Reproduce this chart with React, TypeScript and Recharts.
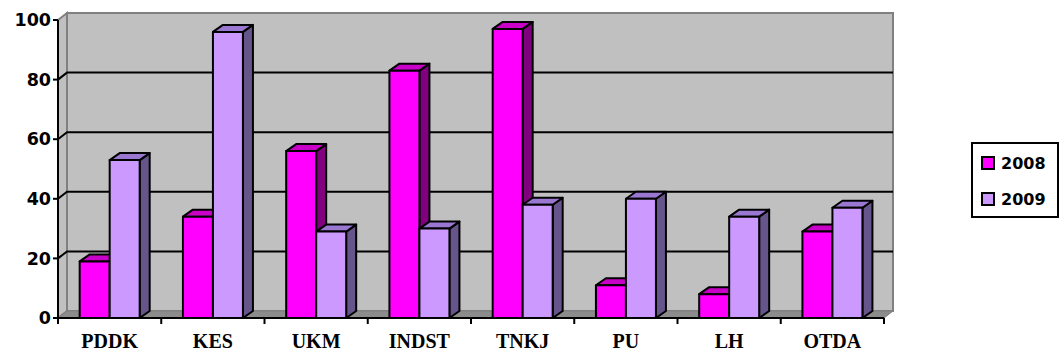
import React from 'react';
import { BarChart, Bar, XAxis, YAxis, CartesianGrid, ReferenceArea, Legend } from 'recharts';

const categories = ['PDDK', 'KES', 'UKM', 'INDST', 'TNKJ', 'PU', 'LH', 'OTDA'];
const values2008 = [19, 34, 56, 83, 97, 11, 8, 29];
const values2009 = [53, 96, 29, 30, 38, 40, 34, 37];
const seriesNames = ['2008', '2009'];
const yTicks = [0, 20, 40, 60, 80, 100];
const gridValues = [20, 40, 60, 80];

const data = categories.map((name, i) => ({ name, y2008: values2008[i], y2009: values2009[i] }));

// depth of the fake 3D box and of the columns
const WALL_DX = 9;
const WALL_DY = -7;
const BAR_DX = 10;
const BAR_DY = -7;

const palette = {
  y2008: { front: '#FF00FF', top: '#C800C8', side: '#800080' },
  y2009: { front: '#CC99FF', top: '#9A78D2', side: '#66558A' },
};

const pts = (arr: number[][]) => arr.map(p => p.join(',')).join(' ');

const make3DBar = (c: { front: string; top: string; side: string }) => (props: any) => {
  const { x, y, width: w, height: h } = props;
  if (w == null || h == null || isNaN(y)) return null;
  return (
    <g stroke="#000" strokeWidth={2} strokeLinejoin="round">
      <polygon points={pts([[x + w, y], [x + w + BAR_DX, y + BAR_DY], [x + w + BAR_DX, y + h + BAR_DY], [x + w, y + h]])} fill={c.side} />
      <polygon points={pts([[x, y], [x + BAR_DX, y + BAR_DY], [x + w + BAR_DX, y + BAR_DY], [x + w, y]])} fill={c.top} />
      <rect x={x} y={y} width={w} height={h} fill={c.front} />
    </g>
  );
};

const Walls = (props: any) => {
  const { x, y, width: w, height: h } = props;
  return (
    <g>
      <polygon points={pts([[x, y], [x + WALL_DX, y + WALL_DY], [x + WALL_DX, y + h + WALL_DY], [x, y + h]])} fill="#C0C0C0" stroke="#808080" strokeWidth={2} />
      <rect x={x + WALL_DX} y={y + WALL_DY} width={w} height={h} fill="#C0C0C0" stroke="#808080" strokeWidth={2} />
      <polygon points={pts([[x, y + h], [x + WALL_DX, y + h + WALL_DY], [x + w + WALL_DX, y + h + WALL_DY], [x + w, y + h]])} fill="#8C8C8C" stroke="#808080" strokeWidth={1} />
    </g>
  );
};

const wallGridLine = (props: any) => {
  const { x1, y1, x2, y2 } = props;
  return (
    <polyline
      key={`g-${y1}`}
      points={pts([[x1, y1], [x1 + WALL_DX, y1 + WALL_DY], [x2 + WALL_DX, y2 + WALL_DY]])}
      fill="none"
      stroke="#000"
      strokeWidth={2}
    />
  );
};

const CategoryTick = (props: any) => {
  const { x, y, payload, index } = props;
  const half = payload?.offset ?? 51.6;
  return (
    <g>
      <line x1={x + half} y1={y} x2={x + half} y2={y + 6} stroke="#000" strokeWidth={2} />
      {index === 0 && <line x1={x - half} y1={y} x2={x - half} y2={y + 6} stroke="#000" strokeWidth={2} />}
      <text x={x} y={y + 30} textAnchor="middle" fill="#000" fontFamily="'Liberation Serif', serif" fontWeight="bold" fontSize={20}>
        {payload.value}
      </text>
    </g>
  );
};

const LegendBox = ({ payload }: any) => (
  <div style={{ width: 88, height: 76, boxSizing: 'border-box', border: '2px solid #000', background: '#fff', paddingTop: 10, paddingLeft: 8 }}>
    {(payload || []).map((p: any) => (
      <div key={p.value} style={{ display: 'flex', alignItems: 'center', height: 18, marginBottom: 18 }}>
        <span style={{ width: 10, height: 10, border: '2px solid #000', background: p.color, display: 'inline-block', marginRight: 6 }} />
        <span style={{ fontFamily: "'DejaVu Sans', sans-serif", fontWeight: 'bold', fontSize: 16, color: '#000' }}>{p.value}</span>
      </div>
    ))}
  </div>
);

export default function App() {
  return (
    <div style={{ width: 1061, height: 354, background: '#fff' }}>
      <style>{'body{margin:0}'}</style>
      <BarChart width={1061} height={354} data={data} margin={{ top: 20, right: 177, bottom: 6, left: 0 }} barCategoryGap="21%" barGap={0}>
        <ReferenceArea y1={0} y2={100} shape={Walls} zIndex={-200} ifOverflow="visible" />
        <CartesianGrid vertical={false} horizontalValues={gridValues} horizontal={wallGridLine} />
        <XAxis
          dataKey="name"
          height={30}
          tick={CategoryTick}
          tickLine={false}
          tickSize={0}
          tickMargin={0}
          axisLine={{ stroke: '#000', strokeWidth: 2 }}
          interval={0}
        />
        <YAxis
          width={58}
          domain={[0, 100]}
          ticks={yTicks}
          interval={0}
          axisLine={{ stroke: '#000', strokeWidth: 2 }}
          tickLine={{ stroke: '#000', strokeWidth: 2 }}
          tickSize={5}
          tickMargin={2}
          tick={{ fill: '#000', fontSize: 17.5, fontWeight: 'bold', fontFamily: "'DejaVu Sans', sans-serif" }}
        />
        <Legend
          layout="vertical"
          align="center"
          verticalAlign="middle"
          content={LegendBox}
          wrapperStyle={{ left: 971, top: 142, width: 88, height: 76 }}
        />
        <Bar dataKey="y2008" name={seriesNames[0]} fill={palette.y2008.front} shape={make3DBar(palette.y2008)} isAnimationActive={false} />
        <Bar dataKey="y2009" name={seriesNames[1]} fill={palette.y2009.front} shape={make3DBar(palette.y2009)} isAnimationActive={false} />
      </BarChart>
    </div>
  );
}
